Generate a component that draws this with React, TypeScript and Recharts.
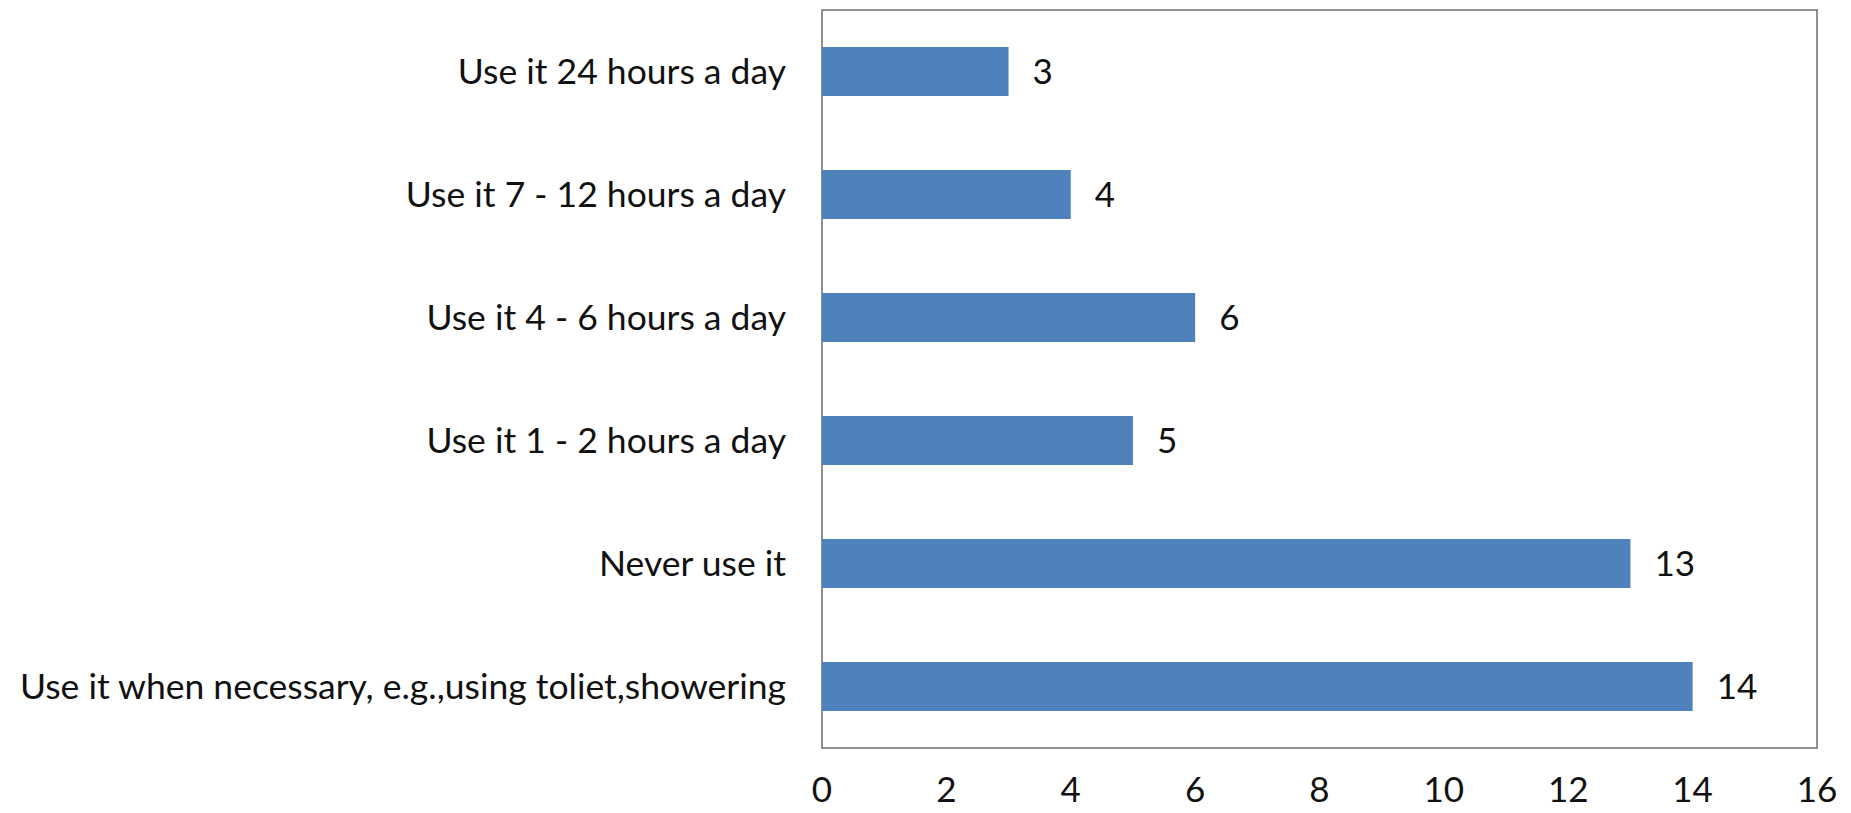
import { BarChart, Bar, XAxis, YAxis, LabelList, ReferenceArea } from "recharts";

const categories = [
  "Use it 24 hours a day",
  "Use it 7 - 12 hours a day",
  "Use it 4 - 6 hours a day",
  "Use it 1 - 2 hours a day",
  "Never use it",
  "Use it when necessary, e.g.,using toliet,showering",
];
const counts = [3, 4, 6, 5, 13, 14];
const xTicks = [0, 2, 4, 6, 8, 10, 12, 14, 16];

const data = categories.map((name, i) => ({ name, value: counts[i] }));

const font = "Lato, 'Open Sans', sans-serif";

export default function App() {
  return (
    <div>
      <style>{"body{margin:0}"}</style>
      <BarChart
        width={1851}
        height={813}
        data={data}
        layout="vertical"
        barCategoryGap="30%"
        margin={{ top: 10, right: 34, left: 0, bottom: 0 }}
      >
        <XAxis
          type="number"
          domain={[0, 16]}
          ticks={xTicks}
          height={65}
          axisLine={false}
          tickLine={false}
          tickSize={0}
          tickMargin={29}
          tick={{ fill: "#111", fontSize: 35, fontFamily: font }}
        />
        <YAxis
          type="category"
          dataKey="name"
          width={822}
          axisLine={false}
          tickLine={false}
          tickSize={0}
          tickMargin={36}
          interval={0}
          tick={{ fill: "#111", fontSize: 35.5, fontFamily: font }}
        />
        {/* frame around plot area */}
        <ReferenceArea x1={0} x2={16} fill="none" stroke="#6b6b6b" strokeWidth={1.5} ifOverflow="extendDomain" />
        <Bar dataKey="value" fill="#4F81BD" isAnimationActive={false}>
          <LabelList dataKey="value" position="right" offset={24} fill="#111" fontSize={35} fontFamily={font} />
        </Bar>
      </BarChart>
    </div>
  );
}
